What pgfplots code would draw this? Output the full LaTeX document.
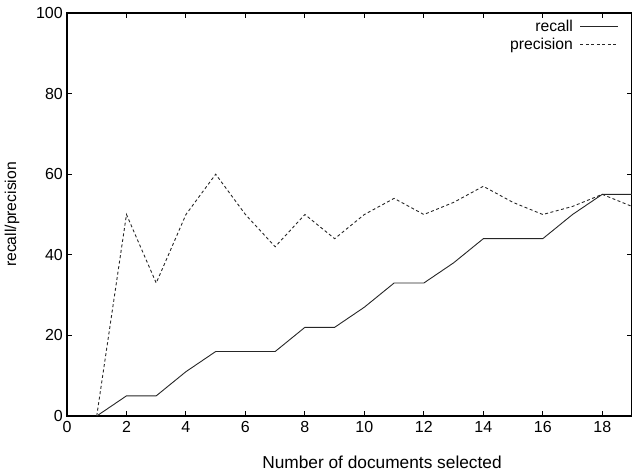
\documentclass[border=0pt]{standalone}
\usepackage{pgfplots}
\pgfplotsset{compat=1.18}
\usepackage{fontspec}
\setmainfont{Liberation Sans}
\begin{document}
\begin{tikzpicture}
\begin{axis}[
  scale only axis,
  width=565pt, height=403pt,
  xmin=0, xmax=19, ymin=0, ymax=100,
  xtick={0,2,...,18}, ytick={0,20,...,100},
  tick align=inside,
  major tick length=5pt,
  tick style={black, line width=0.9pt},
  axis line style={black, line width=1.1pt},
  /pgf/number format/assume math mode=true,
  ticklabel style={font=\fontsize{16}{19}\selectfont},
  xticklabel style={inner sep=1pt, yshift=-4pt},
  yticklabel style={inner sep=1pt, xshift=-3pt},
  xlabel={Number of documents selected},
  ylabel={recall/precision},
  xlabel style={font=\fontsize{17.3}{20}\selectfont, at={(0.5575,0)}, anchor=center, yshift=-46pt},
  ylabel style={font=\fontsize{15.7}{18}\selectfont, at={(0,0.5)}, anchor=center, yshift=55pt},
  legend style={draw=none, fill=none, at={(1,1)}, xshift=-13pt, yshift=-5pt, anchor=north east,
    inner sep=0pt, font=\fontsize{15.7}{18}\selectfont, row sep=1pt,
    nodes={inner sep=2pt}},
  legend cell align=right,
  legend plot pos=right,
  legend image code/.code={\path (0pt,0pt); \draw[#1] (5pt,0pt) -- (43pt,0pt);},
]
\addplot[black!85, line width=0.9pt] coordinates {
(1,0) (2,5) (3,5) (4,11) (5,16) (6,16) (7,16) (8,22) (9,22) (10,27)
(11,33) (12,33) (13,38) (14,44) (15,44) (16,44) (17,50) (18,55) (19,55)};
\addlegendentry{recall}
\addplot[black!85, line width=0.9pt, dash pattern=on 3pt off 2.5pt] coordinates {
(1,0) (2,50) (3,33) (4,50) (5,60) (6,50) (7,42) (8,50) (9,44) (10,50)
(11,54) (12,50) (13,53) (14,57) (15,53) (16,50) (17,52) (18,55) (19,52)};
\addlegendentry{precision}
\end{axis}
\pgfresetboundingbox
\path ([xshift=-67pt,yshift=-56pt]current axis.south west) rectangle ([yshift=13pt]current axis.north east);
\end{tikzpicture}
\end{document}
